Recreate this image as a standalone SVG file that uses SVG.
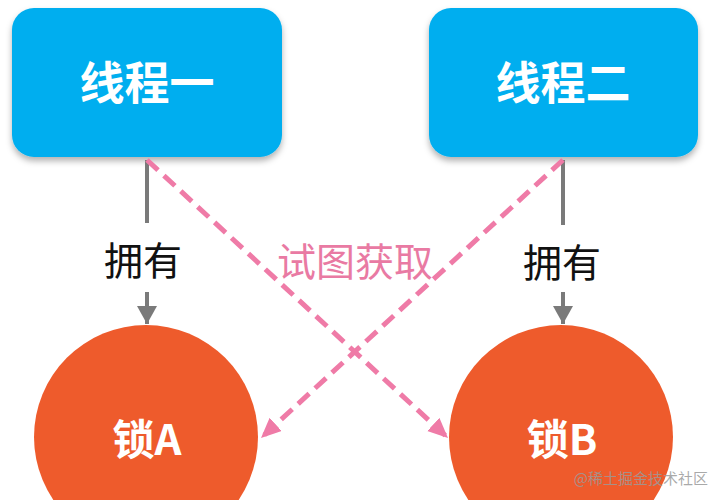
<svg xmlns="http://www.w3.org/2000/svg" width="724" height="500" viewBox="0 0 724 500">
<defs>
<style>
.cjk{font-family:"Noto Sans CJK SC","Noto Sans",sans-serif;}
.boxt{fill:#fff;font-size:45px;font-weight:bold;text-anchor:middle;dominant-baseline:central;}
.lockt{fill:#fff;font-size:42px;font-weight:bold;text-anchor:middle;dominant-baseline:central;}
.own{fill:#111;font-size:39px;text-anchor:middle;dominant-baseline:central;}
.try{fill:#E97AA3;font-size:39px;text-anchor:middle;dominant-baseline:central;}
.box{fill:#00AEEF;}
.lock{fill:#EE5B2C;}
.gray{stroke:#7A7A7A;stroke-width:4;fill:none;}
.dash{stroke:#EF7BA7;stroke-width:5;stroke-dasharray:15 8;fill:none;}
</style>
<filter id="sh" x="-10%" y="-10%" width="120%" height="130%">
<feDropShadow dx="0" dy="4" stdDeviation="3" flood-color="#000" flood-opacity="0.3"/>
</filter>
<marker id="ag" markerUnits="userSpaceOnUse" markerWidth="22" markerHeight="20" refX="18" refY="10" orient="auto">
<path d="M0,0 L18,10 L0,20 Z" fill="#7A7A7A"/>
</marker>
<marker id="ap" markerUnits="userSpaceOnUse" markerWidth="22" markerHeight="20" refX="20" refY="9" orient="auto">
<path d="M0,0 L20,9 L0,18 Z" fill="#EF7BA7"/>
</marker>
</defs>
<rect width="724" height="500" fill="#fff"/>
<g id="thread1">
<rect class="box" x="12" y="8" width="270" height="149" rx="22" filter="url(#sh)"/>
<text class="cjk boxt" x="147" y="80">线程一</text>
</g>
<g id="thread2">
<rect class="box" x="429" y="8" width="269" height="149" rx="22" filter="url(#sh)"/>
<text class="cjk boxt" x="563" y="80">线程二</text>
</g>
<g id="lockA">
<circle class="lock" cx="146" cy="437" r="112"/>
<text class="cjk lockt" x="147" y="436">锁A</text>
</g>
<g id="lockB">
<circle class="lock" cx="561" cy="437" r="112"/>
<text class="cjk lockt" x="562" y="436">锁B</text>
</g>
<g id="connectors">
<line class="gray" x1="147" y1="160" x2="147" y2="223"/>
<line class="gray" x1="147" y1="292" x2="147" y2="324" marker-end="url(#ag)"/>
<text class="cjk own" x="143" y="258">拥有</text>
<line class="gray" x1="563" y1="160" x2="563" y2="225"/>
<line class="gray" x1="563" y1="292" x2="563" y2="324" marker-end="url(#ag)"/>
<text class="cjk own" x="562" y="260">拥有</text>
<line class="dash" x1="147" y1="160" x2="448" y2="438" marker-end="url(#ap)"/>
<line class="dash" x1="563" y1="160" x2="261" y2="438" marker-end="url(#ap)"/>
<text class="cjk try" x="355" y="259">试图获取</text>
</g>
<text class="cjk" x="708" y="477" font-size="15" fill="#9A9A9A" fill-opacity="0.85" text-anchor="end" dominant-baseline="central">@稀土掘金技术社区</text>
</svg>
